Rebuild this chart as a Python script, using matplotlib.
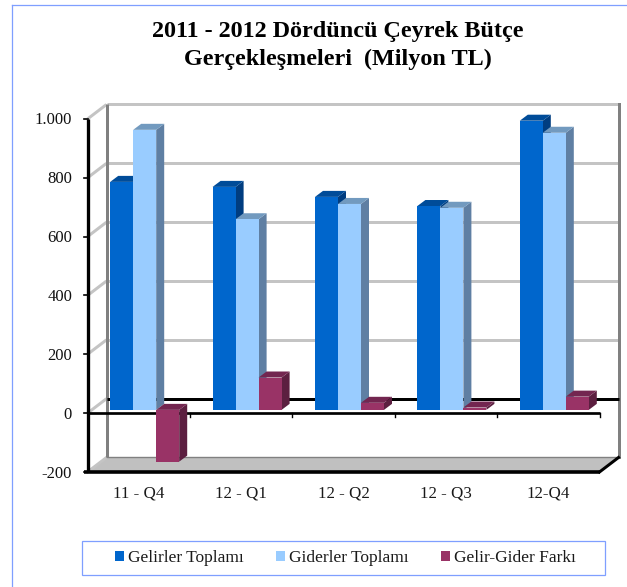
import matplotlib
matplotlib.use('Agg')
import matplotlib.pyplot as plt
from matplotlib.lines import Line2D
from matplotlib.patches import Patch, Polygon, Rectangle
from matplotlib.transforms import Affine2D

categories = ['11 - Q4', '12 - Q1', '12 - Q2', '12 - Q3', '12-Q4']
gelirler = [775, 758, 724, 693, 983]
giderler = [952, 648, 700, 687, 942]
fark = [-176, 110, 24, 8, 45]
y_ticks = [-200, 0, 200, 400, 600, 800, 1000]
y_labels = ['-200', '0', '200', '400', '600', '800', '1.000']

W, H = 627, 587
plt.rcParams['font.family'] = ['Liberation Serif', 'DejaVu Serif']

# front, top, side colours of the bars
series = [
    (gelirler, 'Gelirler Toplamı', '#0066CC', '#004C99', '#003D80'),
    (giderler, 'Giderler Toplamı', '#99CCFF', '#729ABF', '#5F7FA3'),
    (fark, 'Gelir-Gider Farkı', '#993366', '#732650', '#5C1F40'),
]

fig = plt.figure(figsize=(W / 100, H / 100), dpi=100, facecolor='white')


def fx(px):
    return px / W


def fy(py):
    return 1 - py / H


# the plot's front plane, in picture pixels
left, right, top, bottom = 87.5, 599.5, 119, 472
ax = fig.add_axes((fx(left), fy(bottom), fx(right - left), (bottom - top) / H))
ax.set_xlim(0, 5)
ax.set_ylim(-200, 1000)
ax.axis('off')

px_x = 5 / (right - left)
px_y = 1200 / (bottom - top)

wall_dx, wall_dy = 19, 14.5
back = ax.transData + Affine2D().translate(wall_dx, wall_dy)
bars = ax.transData + Affine2D().translate(6.0, 3.3)
d_x, d_y = 8 * px_x, 6 * px_y
bar_w = 23 * px_x

GRID = '#C4C4C4'
WALL = '#808080'
lw3 = 3 * 72 / 100

# floor
ax.add_patch(Polygon([(0, -200), (5, -200),
                      (5 + wall_dx * px_x, -200 + wall_dy * px_y),
                      (wall_dx * px_x, -200 + wall_dy * px_y)],
                     closed=True, fc='#C0C0C0', ec='none', zorder=1, clip_on=False))
ax.plot([wall_dx * px_x, 5 + wall_dx * px_x], [-200 + wall_dy * px_y] * 2,
        color=WALL, lw=1, zorder=1.2, clip_on=False)

# gridlines on back wall and side wall
for v in y_ticks[2:]:
    ax.plot([0, 5], [v, v], color=GRID, lw=lw3, transform=back, zorder=1,
            solid_capstyle='butt', clip_on=False)
for v in y_ticks[1:]:
    ax.plot([0, wall_dx * px_x], [v, v + wall_dy * px_y], color=GRID, lw=lw3, zorder=1,
            solid_capstyle='butt', clip_on=False)
ax.plot([0, wall_dx * px_x], [-200, -200 + wall_dy * px_y], color=GRID, lw=lw3, zorder=1,
        clip_on=False)

# wall edges
ax.plot([0, 0], [-200, 1000], color=WALL, lw=lw3, transform=back, zorder=1.5,
        solid_capstyle='butt', clip_on=False)
ax.plot([5, 5], [-200, 1000], color=WALL, lw=lw3, transform=back, zorder=1.5,
        solid_capstyle='projecting', clip_on=False)
ax.plot([0, 5], [0, 0], color='black', lw=lw3, transform=back, zorder=1.6,
        solid_capstyle='butt', clip_on=False)

# front axes
ax.plot([0, 0], [-200, 1000], color='black', lw=lw3 * 1.1, zorder=2, clip_on=False,
        solid_capstyle='butt')
ax.plot([0, 5], [0, 0], color='black', lw=lw3 * 0.9, zorder=2, clip_on=False,
        solid_capstyle='butt')
ax.plot([-4 * px_x, 5], [-200, -200], color='black', lw=lw3 * 1.2, zorder=2, clip_on=False,
        solid_capstyle='butt')
ax.plot([5, 5 + wall_dx * px_x], [-200, -200 + wall_dy * px_y], color='black', lw=lw3,
        zorder=2, clip_on=False)
for v, lab in zip(y_ticks, y_labels):
    ax.plot([-4 * px_x, 0], [v, v], color='black', lw=1.2, zorder=2, clip_on=False)
    ax.text(-15.5 * px_x, v - 1.5 * px_y, lab, ha='right', va='center', fontsize=12,
            color='#111111')
for i in range(1, 6):
    ax.plot([i, i], [0, -4 * px_y], color='black', lw=1, zorder=2, clip_on=False)
for i, cat in enumerate(categories):
    ax.text(i + 0.5, -200 - 21 * px_y, cat, ha='center', va='center', fontsize=12.2,
            color='#1A1A1A', clip_on=False)

# bars: each one gets a front face plus top and side faces
z = 3
for i in range(len(categories)):
    for s, (vals, label, c_front, c_top, c_side) in enumerate(series):
        x0 = i + 0.5 + (s - 1.5) * bar_w
        v = vals[i]
        hi = max(v, 0)
        lo = min(v, 0)
        ax.add_patch(Polygon([(x0 + bar_w, lo), (x0 + bar_w + d_x, lo + d_y),
                              (x0 + bar_w + d_x, hi + d_y), (x0 + bar_w, hi)],
                             closed=True, fc=c_side, ec='none', transform=bars,
                             zorder=z, clip_on=False))
        ax.add_patch(Polygon([(x0, hi), (x0 + d_x, hi + d_y),
                              (x0 + bar_w + d_x, hi + d_y), (x0 + bar_w, hi)],
                             closed=True, fc=c_top, ec='none', transform=bars,
                             zorder=z, clip_on=False))
        ax.add_patch(Rectangle((x0, lo), bar_w, hi - lo, fc=c_front, ec='none',
                               transform=bars, zorder=z + 0.1, clip_on=False))
        z += 0.2

# title
fig.text(fx(338), fy(31), '2011 - 2012 Dördüncü Çeyrek Bütçe', ha='center', va='center',
         fontsize=17.4, fontweight='bold', color='black')
fig.text(fx(338), fy(59), 'Gerçekleşmeleri  (Milyon TL)', ha='center', va='center',
         fontsize=17.4, fontweight='bold', color='black')

# chart border, only top and left are inside the picture
BORDER = '#7F9FFF'
fig.add_artist(Line2D([fx(11.5), fx(11.5)], [fy(587), fy(4.5)], color=BORDER, lw=0.9))
fig.add_artist(Line2D([fx(11.5), fx(627)], [fy(4.5), fy(4.5)], color=BORDER, lw=0.9))

# legend box
fig.add_artist(Rectangle((fx(81.5), fy(575)), fx(523), 34 / H, fc='white', ec=BORDER, lw=0.9,
                         transform=fig.transFigure))
handles = [Patch(fc=s[2], ec='none', label=s[1]) for s in series]
fig.legend(handles=handles, loc='center left', bbox_to_anchor=(fx(115), fy(558)),
           ncol=3, frameon=False, fontsize=12.5, handlelength=0.52, handleheight=0.52,
           handletextpad=0.2, columnspacing=1.9, borderpad=0, borderaxespad=0,
           labelcolor='#1A1A1A')

fig.savefig('out.png', dpi=100, facecolor='white')
plt.close(fig)
